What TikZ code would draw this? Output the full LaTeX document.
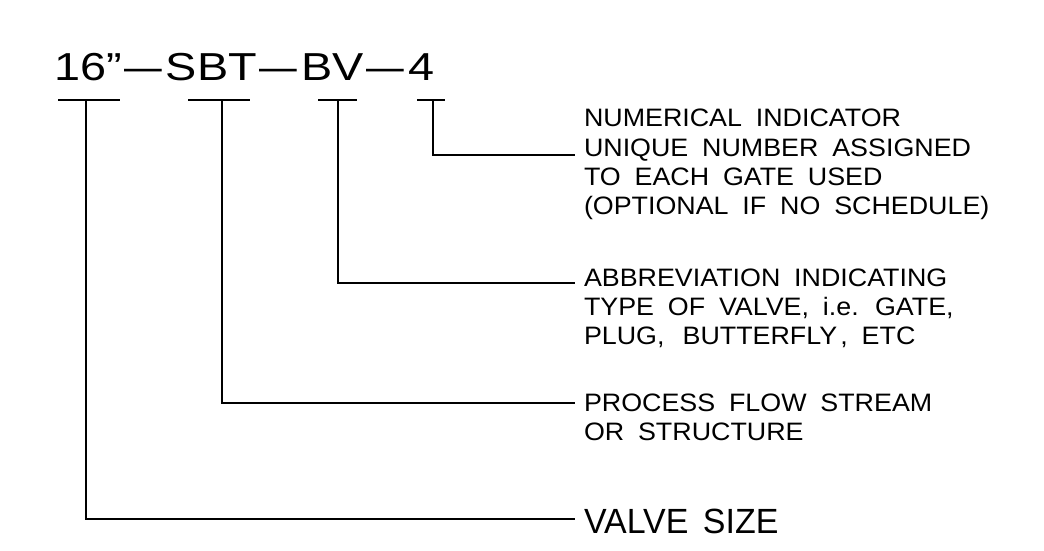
\documentclass[tikz,border=0pt]{standalone}
\usepackage{fontspec}
\setmainfont{Liberation Sans}
\newcommand\lblfont{\fontsize{25.2}{28}\selectfont\spaceskip=13pt\relax}
\newcommand\bigfont{\fontsize{35}{40}\selectfont\spaceskip=15pt\relax}
\newcommand\ttlfont{\fontsize{39}{44}\selectfont}
\newcommand\sxl[1]{\scalebox{1.065}[1]{#1}}
\newcommand\sxv[1]{\scalebox{0.97}[1]{#1}}
\newcommand\tdash{\hspace{2pt}\scalebox{1.45}[1]{–}\hspace{3.5pt}}
\begin{document}
\begin{tikzpicture}[x=1pt,y=-1pt,
  ln/.style={line width=1.9pt, line join=miter},
  lbl/.style={anchor=base west, inner sep=0pt, outer sep=0pt, font=\lblfont},
  biglbl/.style={anchor=base west, inner sep=0pt, outer sep=0pt, font=\bigfont},
  ttl/.style={anchor=base west, inner sep=0pt, outer sep=0pt, font=\ttlfont}]
\fill[white] (0,0) rectangle (1044,550);
\useasboundingbox (0,0) rectangle (1044,550);

% title
\node[ttl] (title) at (54,80) {\scalebox{1.2}[1]{16”\tdash SBT\tdash BV\tdash 4}};

% tick bars
\coordinate (b1l) at (58,100);  \coordinate (b1r) at (120,100); \coordinate (b1) at (86,100);
\coordinate (b2l) at (188,100); \coordinate (b2r) at (250,100); \coordinate (b2) at (222,100);
\coordinate (b3l) at (318,100); \coordinate (b3r) at (357,100); \coordinate (b3) at (338,100);
\coordinate (b4l) at (417,100); \coordinate (b4r) at (445,100); \coordinate (b4) at (433,100);
\draw[ln] (b1l) -- (b1r);
\draw[ln] (b2l) -- (b2r);
\draw[ln] (b3l) -- (b3r);
\draw[ln] (b4l) -- (b4r);

% labels
\node[lbl] (t4a) at (584,126) {\sxl{NUMERICAL INDICATOR}};
\node[lbl] (t4b) at (584,156) {\sxl{UNIQUE NUMBER ASSIGNED}};
\node[lbl] (t4c) at (584,185) {\sxl{TO EACH GATE USED}};
\node[lbl] (t4d) at (584,214) {\sxl{(OPTIONAL IF NO SCHEDULE)}};

\node[lbl] (t3a) at (584,286) {\sxl{ABBREVIATION INDICATING}};
\node[lbl] (t3b) at (584,315) {\sxl{TYPE OF VALVE, i.e. GATE,}};
\node[lbl] (t3c) at (584,344) {\sxl{PLUG,\hspace{4pt} BUTTERFLY\hspace{3pt}, ETC}};

\node[lbl] (t2a) at (584,411) {\sxl{PROCESS FLOW STREAM}};
\node[lbl] (t2b) at (584,440) {\sxl{OR STRUCTURE}};

\node[biglbl] (t1a) at (584,533) {\sxv{VALVE SIZE}};

% connector ends
\coordinate (e4) at (575,155);
\coordinate (e3) at (575,283);
\coordinate (e2) at (575,403);
\coordinate (e1) at (575,519);

\draw[ln] (b4) |- (e4);
\draw[ln] (b3) |- (e3);
\draw[ln] (b2) |- (e2);
\draw[ln] (b1) |- (e1);
\end{tikzpicture}
\end{document}
